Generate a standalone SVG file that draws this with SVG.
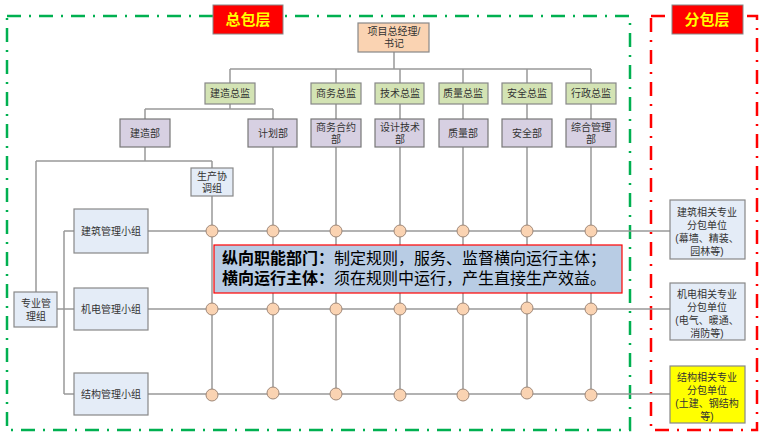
<svg xmlns="http://www.w3.org/2000/svg" width="767" height="437" viewBox="0 0 767 437">
<style>
text{font-family:"Liberation Sans","Noto Sans CJK SC",sans-serif;font-size:10px;fill:#333;text-anchor:middle}
.l{stroke:#999;stroke-width:1.5;fill:none}
.g{fill:#D3E3B4;stroke:#888;stroke-width:1.2}
.p{fill:#D7D0E2;stroke:#777;stroke-width:1.2}
.b{fill:#E4ECF7;stroke:#888;stroke-width:1.2}
.c{fill:#FAD3B2;stroke:#A08878;stroke-width:1}
.lab{fill:#FF0000;stroke:#888;stroke-width:1}
.labt{font-size:15px;font-weight:bold;fill:#FFFF00}
</style>
<rect width="767" height="437" fill="#fff"/>
<rect x="7" y="16" width="623" height="414" fill="none" stroke="#00B050" stroke-width="2.5" stroke-dasharray="14,8,2,8"/>
<rect x="651" y="16" width="106" height="414" fill="none" stroke="#FF0000" stroke-width="2.5" stroke-dasharray="14,8,2,8"/>
<g id="connectors">
<path class="l" d="M394 52V69M230 69H591M230 69V83M336 69V83M400 69V83M463 69V83M527 69V83M591 69V83"/>
<path class="l" d="M230 104V109M145 109H273M145 109V119M273 109V119M336 104V119M400 104V119M463 104V119M527 104V119M591 104V119"/>
<path class="l" d="M145 147V161M36 161H212M212 161V168M36 161V292M57 309H64M64 231V394M64 231H74M64 309H74M64 394H74"/>
<path class="l" d="M148 231H670M148 309H670M148 394H670"/>
<path class="l" d="M212 196V394M273 147V394M336 147V394M400 147V394M463 147V394M527 147V394M591 147V394"/>
</g>
<g id="circles">
<g class="c">
<circle cx="212" cy="231" r="6"/><circle cx="273" cy="231" r="6"/><circle cx="336" cy="231" r="6"/><circle cx="400" cy="231" r="6"/><circle cx="463" cy="231" r="6"/><circle cx="527" cy="231" r="6"/><circle cx="591" cy="231" r="6"/>
<circle cx="212" cy="309" r="6"/><circle cx="273" cy="309" r="6"/><circle cx="336" cy="309" r="6"/><circle cx="400" cy="309" r="6"/><circle cx="463" cy="309" r="6"/><circle cx="527" cy="308" r="6"/><circle cx="591" cy="309" r="6"/>
<circle cx="212" cy="395" r="6"/><circle cx="273" cy="393" r="6"/><circle cx="336" cy="394" r="6"/><circle cx="400" cy="395" r="6"/><circle cx="463" cy="395" r="6"/><circle cx="527" cy="393" r="6"/><circle cx="591" cy="395" r="6"/>
</g>
</g>
<g id="zongbao"><rect class="lab" x="213" y="5" width="70" height="29"/><text class="labt" x="248" y="25">总包层</text></g>
<g id="fenbao"><rect class="lab" x="672" y="5" width="71" height="29"/><text class="labt" x="707" y="25">分包层</text></g>
<g id="pm"><rect x="358" y="23" width="71" height="29" fill="#FAD3B2" stroke="#888" stroke-width="1.2"/><text x="394" y="35">项目总经理/</text><text x="394" y="47">书记</text></g>
<g id="d1"><rect class="g" x="205" y="83" width="50" height="21"/><text x="230" y="97">建造总监</text></g>
<g id="d2"><rect class="g" x="311" y="83" width="50" height="21"/><text x="336" y="97">商务总监</text></g>
<g id="d3"><rect class="g" x="375" y="83" width="49" height="21"/><text x="400" y="97">技术总监</text></g>
<g id="d4"><rect class="g" x="439" y="83" width="49" height="21"/><text x="463" y="97">质量总监</text></g>
<g id="d5"><rect class="g" x="502" y="83" width="50" height="21"/><text x="527" y="97">安全总监</text></g>
<g id="d6"><rect class="g" x="566" y="83" width="50" height="21"/><text x="591" y="97">行政总监</text></g>
<g id="p1"><rect class="p" x="120" y="119" width="50" height="28"/><text x="145" y="137">建造部</text></g>
<g id="p2"><rect class="p" x="248" y="119" width="49" height="28"/><text x="273" y="137">计划部</text></g>
<g id="p3"><rect class="p" x="311" y="119" width="50" height="28"/><text x="336" y="131">商务合约</text><text x="336" y="143">部</text></g>
<g id="p4"><rect class="p" x="375" y="119" width="49" height="28"/><text x="400" y="131">设计技术</text><text x="400" y="143">部</text></g>
<g id="p5"><rect class="p" x="439" y="119" width="49" height="28"/><text x="463" y="137">质量部</text></g>
<g id="p6"><rect class="p" x="502" y="119" width="50" height="28"/><text x="527" y="137">安全部</text></g>
<g id="p7"><rect class="p" x="566" y="119" width="50" height="28"/><text x="591" y="131">综合管理</text><text x="591" y="143">部</text></g>
<g id="coord"><rect class="b" x="191" y="168" width="42" height="28"/><text x="212" y="180">生产协</text><text x="212" y="192">调组</text></g>
<g id="zy"><rect class="b" x="14" y="292" width="43" height="35"/><text x="36" y="307">专业管</text><text x="36" y="320">理组</text></g>
<g id="g1"><rect class="b" x="74" y="209" width="74" height="44"/><text x="111" y="235">建筑管理小组</text></g>
<g id="g2"><rect class="b" x="74" y="288" width="74" height="42"/><text x="111" y="313">机电管理小组</text></g>
<g id="g3"><rect class="b" x="74" y="373" width="74" height="42"/><text x="111" y="398">结构管理小组</text></g>
<g id="s1"><rect class="b" x="670" y="200" width="75" height="59"/><text x="707" y="216">建筑相关专业</text><text x="707" y="229">分包单位</text><text x="707" y="242">(幕墙、精装、</text><text x="707" y="255">园林等)</text></g>
<g id="s2"><rect class="b" x="670" y="283" width="75" height="57"/><text x="707" y="298">机电相关专业</text><text x="707" y="311">分包单位</text><text x="707" y="324">(电气、暖通、</text><text x="707" y="337">消防等)</text></g>
<g id="s3"><rect x="670" y="366" width="75" height="57" fill="#FFFF00" stroke="#888" stroke-width="1.2"/><text x="707" y="381">结构相关专业</text><text x="707" y="394">分包单位</text><text x="707" y="407">(土建、钢结构</text><text x="707" y="420">等)</text></g>
<g id="callout"><rect x="214" y="245" width="408" height="48" fill="#B8CCE4" stroke="#FF0000" stroke-width="1.2"/>
<text x="222" y="264" style="text-anchor:start;font-size:16px;fill:#000"><tspan font-weight="bold">纵向职能部门：</tspan>制定规则，服务、监督横向运行主体；</text>
<text x="222" y="284" style="text-anchor:start;font-size:16px;fill:#000"><tspan font-weight="bold">横向运行主体：</tspan>须在规则中运行，产生直接生产效益。</text></g>
</svg>
